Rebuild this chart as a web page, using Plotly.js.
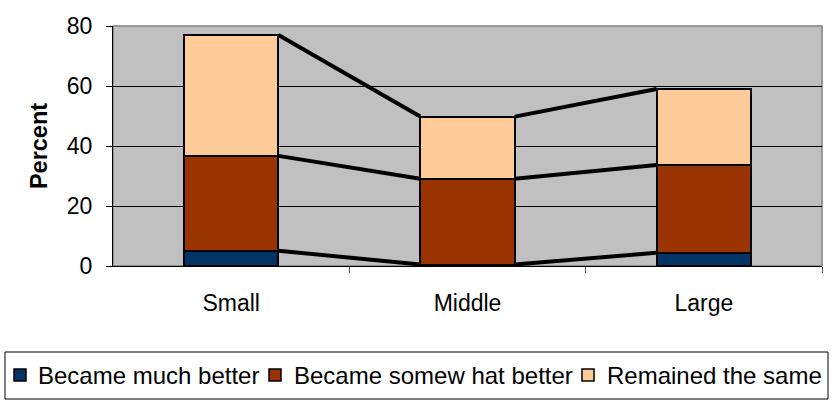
<!DOCTYPE html>
<html>
<head>
<meta charset="utf-8">
<script src="https://cdn.plot.ly/plotly-3.0.1.min.js"></script>
<style>html,body{margin:0;padding:0;background:#fff;}#chart{width:834px;height:401px;}</style>
</head>
<body>
<div id="chart"></div>
<script>
var categories = ["Small", "Middle", "Large"];
var seriesNames = ["Became much better", "Became somew hat better", "Remained the same"];
var muchBetter = [5.1, 0.5, 4.4];
var somewhatBetter = [31.6, 28.6, 29.3];
var remainedSame = [40.3, 20.7, 25.3];
var seriesColors = ["#003366", "#993300", "#FFCC99"];
var yTicks = [0, 20, 40, 60, 80];

var FONT = "Liberation Sans, Arial, sans-serif";
var W = 834, H = 401;
var M = { l: 113, r: 12, t: 26, b: 135 };
var plotW = W - M.l - M.r, plotH = H - M.t - M.b;
function px(x) { return (x - M.l) / plotW; }
function py(y) { return (H - M.b - y) / plotH; }

var barWidth = 0.4;
var xpos = categories.map(function (c, i) { return i; });
var allSeries = [muchBetter, somewhatBetter, remainedSame];

var traces = [];
allSeries.forEach(function (vals, s) {
  traces.push({
    type: "bar",
    x: xpos,
    y: vals,
    name: seriesNames[s],
    width: barWidth,
    marker: { color: seriesColors[s], line: { color: "#000", width: 2 } },
    hoverinfo: "skip",
    showlegend: false
  });
});

// series lines joining the top of each segment between adjacent bars
var cum = categories.map(function () { return 0; });
allSeries.forEach(function (vals) {
  cum = cum.map(function (c, i) { return c + vals[i]; });
  var lx = [], ly = [];
  for (var i = 0; i < categories.length - 1; i++) {
    lx.push(xpos[i] + barWidth / 2, xpos[i + 1] - barWidth / 2, null);
    ly.push(cum[i], cum[i + 1], null);
  }
  traces.push({
    type: "scatter", mode: "lines", x: lx, y: ly,
    line: { color: "#000", width: 4 }, showlegend: false, hoverinfo: "skip", connectgaps: false
  });
});

// legend drawn as shapes + text (Excel-style compact legend)
var legendBox = { x0: 5, x1: 828, y0: 352, y1: 399 };
var legendSquareX = [14, 269, 582];
var legendTextX = [36, 292, 605];
var legendMidY = 375;
var shapes = [
  { type: "rect", xref: "paper", yref: "paper", x0: 0, x1: 1, y0: 0, y1: 1,
    line: { color: "#808080", width: 1.5 }, fillcolor: "rgba(0,0,0,0)", layer: "below" },
  { type: "rect", xref: "paper", yref: "paper",
    x0: px(legendBox.x0), x1: px(legendBox.x1), y0: py(legendBox.y1), y1: py(legendBox.y0),
    line: { color: "#000", width: 1 }, fillcolor: "#fff" }
];
var annotations = [];
seriesNames.forEach(function (name, s) {
  shapes.push({ type: "rect", xref: "paper", yref: "paper",
    x0: px(legendSquareX[s]), x1: px(legendSquareX[s] + 12),
    y0: py(legendMidY + 6), y1: py(legendMidY - 6),
    line: { color: "#000", width: 1.5 }, fillcolor: seriesColors[s] });
  annotations.push({ xref: "paper", yref: "paper", x: px(legendTextX[s]), y: py(legendMidY),
    xanchor: "left", yanchor: "middle", showarrow: false, text: name,
    font: { family: FONT, size: 24, color: "#000" } });
});

var layout = {
  width: W, height: H,
  margin: M,
  barmode: "stack",
  showlegend: false,
  paper_bgcolor: "#ffffff",
  plot_bgcolor: "#C0C0C0",
  font: { family: FONT, size: 23, color: "#000" },
  xaxis: {
    range: [-0.5, categories.length - 0.5],
    tickmode: "array", tickvals: xpos, ticktext: categories,
    ticks: "", ticklabelstandoff: 16,
    showgrid: false, zeroline: false, automargin: false,
    showline: true, linecolor: "#000", linewidth: 1, mirror: false,
    minor: { tickmode: "array", tickvals: [0.5, 1.5, 2.5], ticks: "outside", ticklen: 6, tickcolor: "#555", showgrid: false },
    tickfont: { family: FONT, size: 23 }
  },
  yaxis: {
    range: [0, 80], tickmode: "array", tickvals: yTicks,
    ticks: "outside", ticklen: 6, tickcolor: "#000",
    showgrid: true, gridcolor: "#000", gridwidth: 1,
    zeroline: false, showline: true, linecolor: "#000", linewidth: 1, automargin: false,
    ticklabelstandoff: 9,
    tickfont: { family: FONT, size: 23 },
    title: { text: "Percent", font: { family: FONT, size: 23.5, weight: "bold" }, standoff: 12 }
  },
  shapes: shapes,
  annotations: annotations
};

Plotly.newPlot("chart", traces, layout, { staticPlot: true, displayModeBar: false });
</script>
</body>
</html>
